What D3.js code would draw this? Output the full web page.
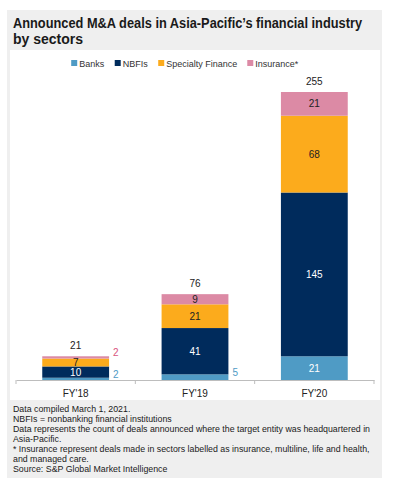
<!DOCTYPE html>
<html>
<head>
<meta charset="utf-8">
<script src="https://cdn.jsdelivr.net/npm/d3@7"></script>
<style>
  body { margin: 0; background: #fff; }
  svg { display: block; font-family: "Liberation Sans", Arial, sans-serif; }
</style>
</head>
<body>
<div id="chart"></div>
<script>
// chart data
var categories = ["FY'18", "FY'19", "FY'20"];
var seriesNames = ["Banks", "NBFIs", "Specialty Finance", "Insurance*"];
var banks = [2, 5, 21];
var nbfis = [10, 41, 145];
var specialty = [7, 21, 68];
var insurance = [2, 9, 21];
var titleLines = ["Announced M&A deals in Asia-Pacific\u2019s financial industry", "by sectors"];
var notes = [
  "Data compiled March 1, 2021.",
  "NBFIs = nonbanking financial institutions",
  "Data represents the count of deals announced where the target entity was headquartered in",
  "Asia-Pacific.",
  "* Insurance represent deals made in sectors labelled as insurance, multiline, life and health,",
  "and managed care.",
  "Source: S&P Global Market Intelligence"
];

var colors = ["#4f9bc5", "#002b5c", "#fcab1c", "#dc8aa5"];
var labelColors = ["#fff", "#fff", "#222", "#222"];
var outsideColors = ["#4f9bc5", "#002b5c", "#fcab1c", "#d9547e"];

var W = 398, H = 480;
var svg = d3.select('#chart').append('svg').attr('width', W).attr('height', H);

// panels
svg.append('rect').attr('x', 7).attr('y', 10).attr('width', 375).attr('height', 468).attr('fill', '#efefef');
svg.append('rect').attr('x', 10).attr('y', 50).attr('width', 370).attr('height', 350).attr('fill', '#fff');

// title
svg.selectAll('text.title').data(titleLines).enter().append('text')
  .attr('class', 'title')
  .attr('x', 13)
  .attr('y', function(d, i) { return 28 + i * 16; })
  .attr('font-size', 14)
  .attr('font-weight', 'bold')
  .attr('fill', '#1a1a1a')
  .text(function(d) { return d; });
// squeeze first line to the width in the picture
svg.select('text.title').each(function() {
  var w = this.getComputedTextLength();
  if (w > 349) d3.select(this).attr('textLength', 349).attr('lengthAdjust', 'spacingAndGlyphs');
});

// stack the series
var rows = categories.map(function(c, i) {
  return { cat: c, Banks: banks[i], NBFIs: nbfis[i], 'Specialty Finance': specialty[i], 'Insurance*': insurance[i] };
});
var stacked = d3.stack().keys(seriesNames)(rows);
var totals = categories.map(function(c, i) { return banks[i] + nbfis[i] + specialty[i] + insurance[i]; });

var x = d3.scaleBand().domain(categories).range([16, 374]).paddingInner(0.44).paddingOuter(0.22);
var y = d3.scaleLinear().domain([0, d3.max(totals)]).range([380, 92]);

// bars
var layer = svg.selectAll('g.layer').data(stacked).enter().append('g')
  .attr('class', 'layer')
  .attr('fill', function(d, i) { return colors[i]; });
layer.selectAll('rect').data(function(d) { return d; }).enter().append('rect')
  .attr('x', function(d) { return x(d.data.cat); })
  .attr('y', function(d) { return y(d[1]); })
  .attr('width', x.bandwidth())
  .attr('height', function(d) { return y(d[0]) - y(d[1]); });

// segment labels
stacked.forEach(function(s, si) {
  s.forEach(function(d) {
    var v = d[1] - d[0];
    var outside = v < 6;
    var cy = (y(d[0]) + y(d[1])) / 2;
    svg.append('text')
      .attr('x', outside ? x(d.data.cat) + x.bandwidth() + 4 : x(d.data.cat) + x.bandwidth() / 2)
      .attr('y', outside ? cy - 1 : cy + 3.5)
      .attr('text-anchor', outside ? 'start' : 'middle')
      .attr('font-size', 10)
      .attr('fill', outside ? outsideColors[si] : labelColors[si])
      .text(v);
  });
});

// totals
svg.selectAll('text.total').data(categories).enter().append('text')
  .attr('class', 'total')
  .attr('x', function(d) { return x(d) + x.bandwidth() / 2; })
  .attr('y', function(d, i) { return y(totals[i]) - 7; })
  .attr('text-anchor', 'middle')
  .attr('font-size', 10)
  .attr('fill', '#222')
  .text(function(d, i) { return totals[i]; });

// x axis
var xAxis = d3.axisBottom(x).tickSize(0).tickPadding(10);
var ax = svg.append('g').attr('transform', 'translate(0,380)').call(xAxis);
ax.select('.domain').attr('stroke', '#bdbdbd');
ax.selectAll('text').attr('font-size', 10).attr('fill', '#222').attr('font-family', null);
d3.range(categories.length + 1).forEach(function(i) {
  var bx = x.range()[0] + i * x.step();
  ax.append('line').attr('x1', bx).attr('x2', bx).attr('y1', 0).attr('y2', 4).attr('stroke', '#bdbdbd');
});

// legend
var legend = svg.append('g').attr('transform', 'translate(0,63)');
var lx = 0;
var items = legend.selectAll('g').data(seriesNames).enter().append('g');
items.append('rect').attr('width', 6).attr('height', 6).attr('y', -3)
  .attr('fill', function(d, i) { return colors[i]; });
items.append('text').attr('x', 8).attr('y', 3.5).attr('font-size', 9).attr('fill', '#333')
  .text(function(d) { return d; });
items.each(function() {
  d3.select(this).attr('transform', 'translate(' + lx + ',0)');
  lx += this.getBBox().width + 10;
});
lx -= 10;
legend.attr('transform', 'translate(' + (185 - lx / 2) + ',63)');

// notes
svg.selectAll('text.note').data(notes).enter().append('text')
  .attr('class', 'note')
  .attr('x', 13)
  .attr('y', function(d, i) { return 411.5 + i * 10; })
  .attr('font-size', 8.8)
  .attr('fill', '#1a1a1a')
  .text(function(d) { return d; });
</script>
</body>
</html>
